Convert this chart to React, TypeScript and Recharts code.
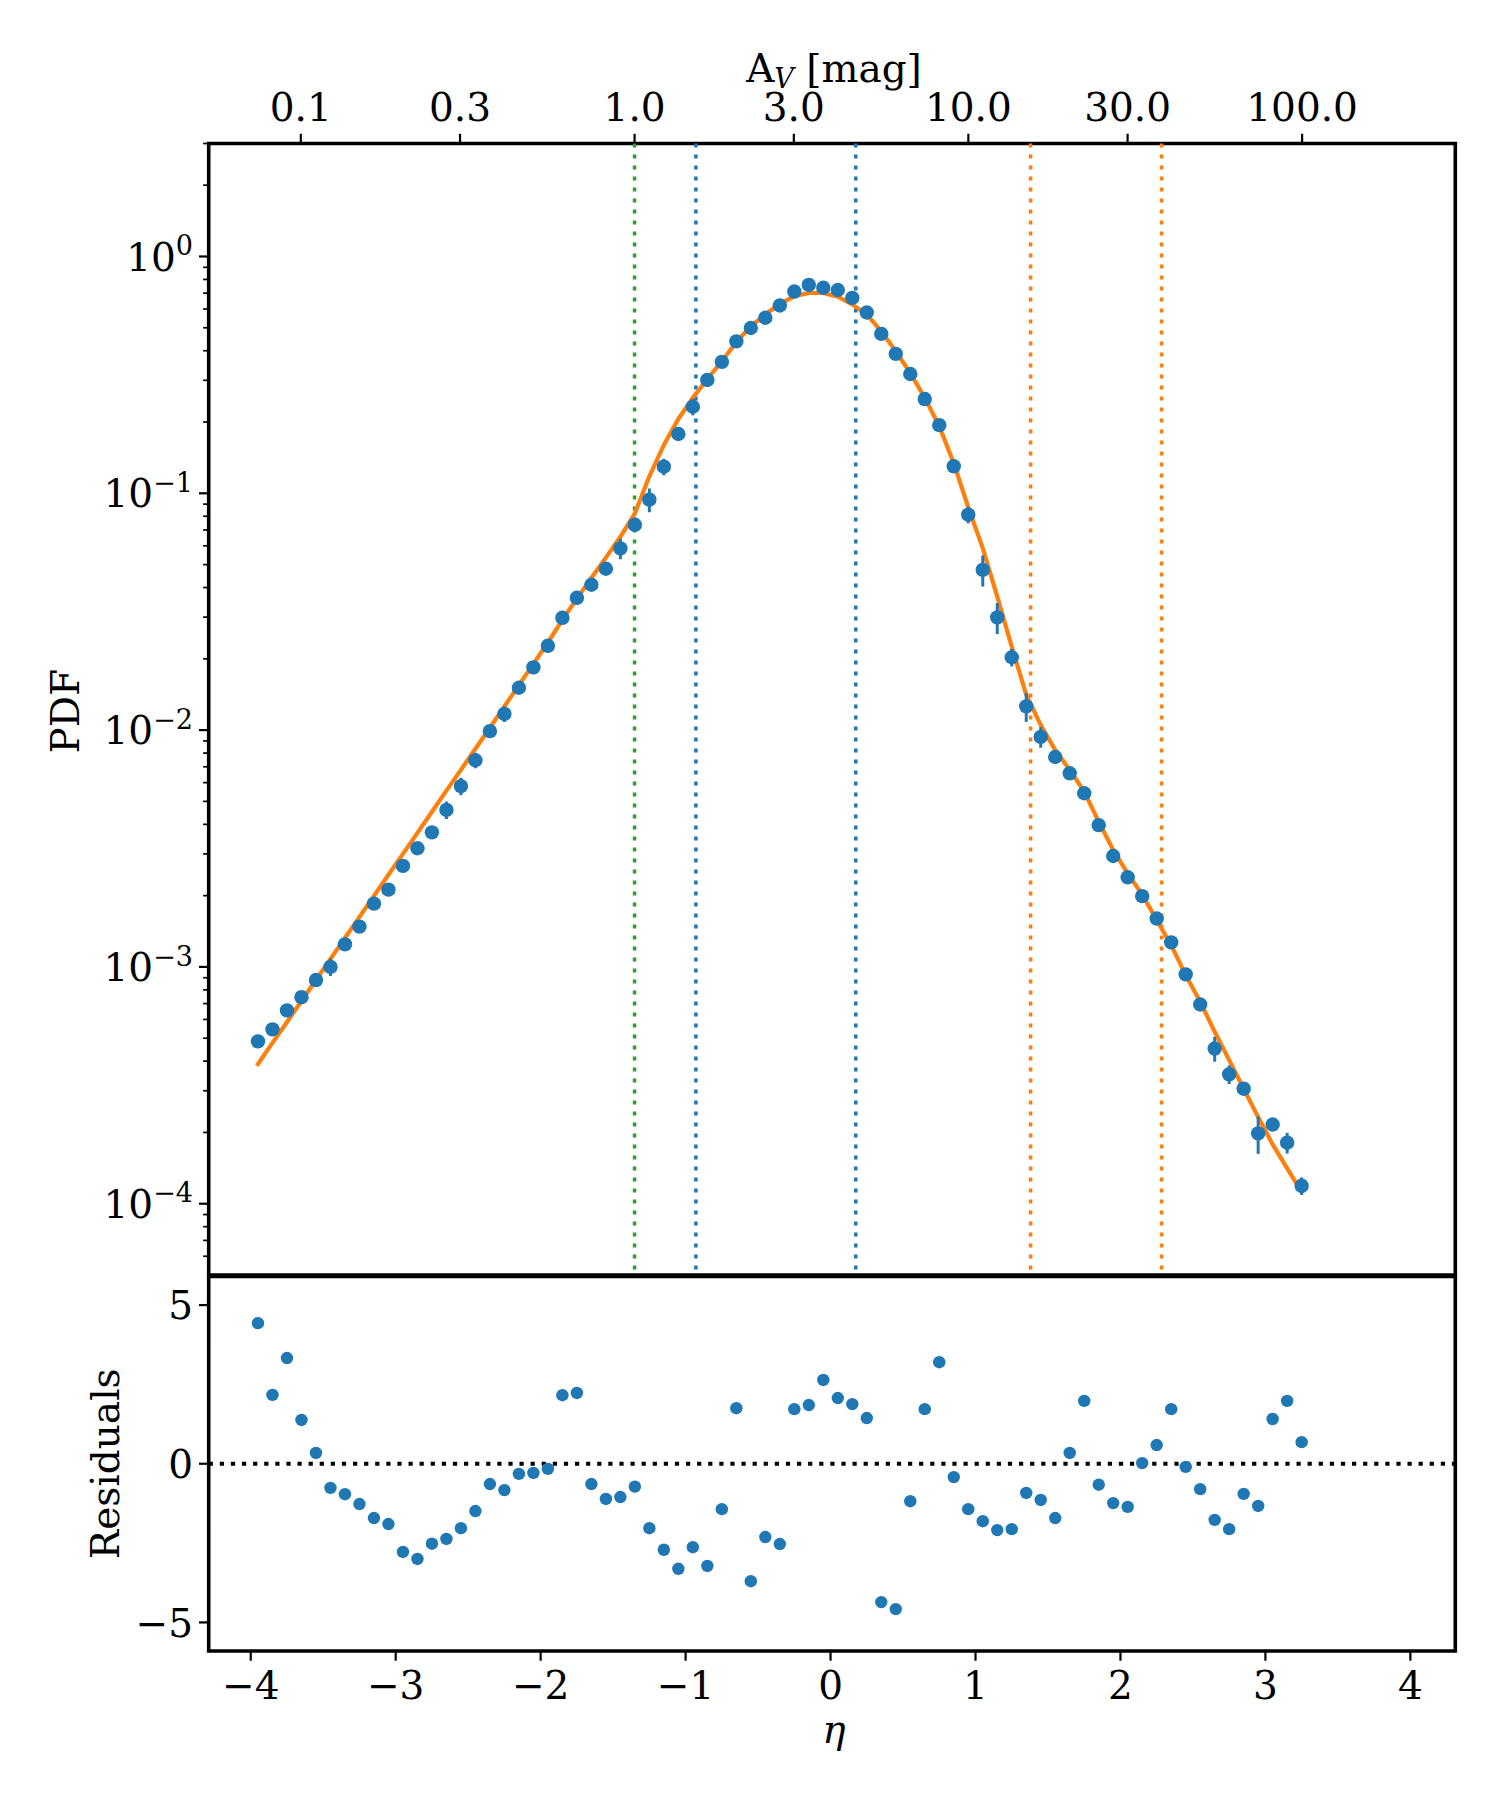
import React from 'react';
import {
  ComposedChart,
  Line,
  Scatter,
  XAxis,
  YAxis,
  ReferenceLine,
  ReferenceArea,
  ErrorBar,
} from 'recharts';

// ---------------- data ----------------
const etaBins = [
  -3.95, -3.85, -3.75, -3.65, -3.55, -3.45, -3.35, -3.25, -3.15, -3.05,
  -2.95, -2.85, -2.75, -2.65, -2.55, -2.45, -2.35, -2.25, -2.15, -2.05,
  -1.95, -1.85, -1.75, -1.65, -1.55, -1.45, -1.35, -1.25, -1.15, -1.05,
  -0.95, -0.85, -0.75, -0.65, -0.55, -0.45, -0.35, -0.25, -0.15, -0.05,
  0.05, 0.15, 0.25, 0.35, 0.45, 0.55, 0.65, 0.75, 0.85, 0.95,
  1.05, 1.15, 1.25, 1.35, 1.45, 1.55, 1.65, 1.75, 1.85, 1.95,
  2.05, 2.15, 2.25, 2.35, 2.45, 2.55, 2.65, 2.75, 2.85, 2.95,
  3.05, 3.15, 3.25,
];

const pdfValues = [
  4.85e-4, 5.45e-4, 6.55e-4, 7.45e-4, 8.8e-4, 1.0e-3, 1.245e-3, 1.48e-3, 1.85e-3, 2.12e-3,
  2.67e-3, 3.17e-3, 3.7e-3, 4.6e-3, 5.8e-3, 7.46e-3, 9.9e-3, 1.17e-2, 1.51e-2, 1.84e-2,
  2.27e-2, 2.98e-2, 3.62e-2, 4.11e-2, 4.8e-2, 5.85e-2, 7.36e-2, 9.4e-2, 0.1295, 0.178,
  0.232, 0.301, 0.359, 0.438, 0.499, 0.551, 0.621, 0.711, 0.759, 0.738,
  0.722, 0.669, 0.58, 0.471, 0.388, 0.319, 0.25, 0.194, 0.13, 0.0812,
  0.0475, 0.0299, 0.0203, 0.0126, 9.36e-3, 7.7e-3, 6.57e-3, 5.41e-3, 3.97e-3, 2.94e-3,
  2.39e-3, 1.99e-3, 1.6e-3, 1.27e-3, 9.3e-4, 6.94e-4, 4.52e-4, 3.52e-4, 3.06e-4, 1.98e-4,
  2.16e-4, 1.81e-4, 1.19e-4,
];

// relative 1-sigma errors of the PDF points
const pdfRelErr = [
  0.04, 0.04, 0.04, 0.04, 0.04, 0.085, 0.04, 0.04, 0.04, 0.04,
  0.04, 0.04, 0.04, 0.085, 0.085, 0.075, 0.05, 0.075, 0.05, 0.05,
  0.05, 0.05, 0.05, 0.05, 0.05, 0.1, 0.06, 0.115, 0.08, 0.05,
  0.08, 0.04, 0.04, 0.04, 0.03, 0.03, 0.03, 0.03, 0.03, 0.03,
  0.03, 0.03, 0.03, 0.03, 0.03, 0.03, 0.04, 0.04, 0.05, 0.08,
  0.15, 0.15, 0.085, 0.14, 0.1, 0.05, 0.05, 0.05, 0.05, 0.05,
  0.05, 0.05, 0.05, 0.05, 0.06, 0.06, 0.12, 0.09, 0.06, 0.18,
  0.06, 0.1, 0.085,
];

const fitValues = [
  3.89e-4, 4.78e-4, 5.85e-4, 7.18e-4, 8.81e-4, 1.081e-3, 1.324e-3, 1.626e-3, 1.995e-3, 2.449e-3,
  3.0e-3, 3.68e-3, 4.52e-3, 5.55e-3, 6.79e-3, 8.34e-3, 1.023e-2, 1.259e-2, 1.549e-2, 1.905e-2,
  2.344e-2, 2.92e-2, 3.59e-2, 4.39e-2, 5.35e-2, 6.55e-2, 8.22e-2, 0.118, 0.16, 0.206,
  0.253, 0.304, 0.361, 0.435, 0.507, 0.569, 0.631, 0.679, 0.701, 0.701,
  0.676, 0.627, 0.569, 0.483, 0.398, 0.322, 0.253, 0.192, 0.134, 0.0871,
  0.0587, 0.0366, 0.0225, 0.0141, 0.0105, 8.24e-3, 6.79e-3, 5.5e-3, 4.1e-3, 3.12e-3,
  2.48e-3, 2.02e-3, 1.58e-3, 1.236e-3, 9.23e-4, 7.13e-4, 5.32e-4, 4.04e-4, 3.06e-4, 2.32e-4,
  1.78e-4, 1.41e-4, 1.12e-4,
];

const residuals = [
  4.43, 2.17, 3.33, 1.38, 0.34, -0.76, -0.96, -1.27, -1.71, -1.9,
  -2.78, -3.0, -2.52, -2.37, -2.03, -1.49, -0.64, -0.83, -0.32, -0.29,
  -0.16, 2.16, 2.23, -0.64, -1.11, -1.05, -0.72, -2.03, -2.71, -3.31,
  -2.63, -3.22, -1.43, 1.75, -3.7, -2.31, -2.53, 1.72, 1.85, 2.64,
  2.07, 1.88, 1.44, -4.36, -4.58, -1.18, 1.72, 3.2, -0.42, -1.43,
  -1.81, -2.09, -2.06, -0.92, -1.14, -1.71, 0.34, 1.98, -0.66, -1.24,
  -1.36, 0.02, 0.59, 1.72, -0.1, -0.8, -1.77, -2.06, -0.95, -1.33,
  1.41, 1.98, 0.68,
];

// top axis: A_V in magnitudes, eta = ln(A_V / <A_V>)
const meanAv = 3.865;
const avTickValues = [0.1, 0.3, 1.0, 3.0, 10.0, 30.0, 100.0];
const avTickLabels = ['0.1', '0.3', '1.0', '3.0', '10.0', '30.0', '100.0'];

const greenLines = [-1.352];
const blueLines = [-0.929, 0.174];
const orangeLines = [1.38, 2.284];

const etaDomain = [-4.29, 4.31];
const pdfDomain = [5e-5, 3];
const resDomain = [-5.9, 5.9];
const pdfMajorTicks = [1e-4, 1e-3, 1e-2, 1e-1, 1];
const pdfMinorTicks = [
  6e-5, 7e-5, 8e-5, 9e-5,
  2e-4, 3e-4, 4e-4, 5e-4, 6e-4, 7e-4, 8e-4, 9e-4,
  2e-3, 3e-3, 4e-3, 5e-3, 6e-3, 7e-3, 8e-3, 9e-3,
  2e-2, 3e-2, 4e-2, 5e-2, 6e-2, 7e-2, 8e-2, 9e-2,
  0.2, 0.3, 0.4, 0.5, 0.6, 0.7, 0.8, 0.9,
  2, 3,
];
const etaTicks = [-4, -3, -2, -1, 0, 1, 2, 3, 4];
const resTicks = [-5, 0, 5];

// ---------------- derived tables ----------------
const pdfRows = etaBins.map((eta, i) => ({
  eta,
  pdf: pdfValues[i],
  err: pdfValues[i] * pdfRelErr[i],
  fit: fitValues[i],
}));
const resRows = etaBins.map((eta, i) => ({ eta, res: residuals[i] }));
const avTickEta = avTickValues.map((a) => Math.log(a / meanAv));
const pdfAllTicks = [...pdfMajorTicks, ...pdfMinorTicks].sort((a, b) => a - b);

// ---------------- styles ----------------
const FONT = 'DejaVu Serif';
const FS = 39;
const SUP = 27;
const C0 = '#1f77b4';
const C1 = '#ff7f0e';
const C2 = '#2ca02c';
const TICK_LEN = 9.7;
const MINOR_LEN = 5.6;
const Y_MARGIN = 6;
const X_MARGIN = 9.7;
const SPINE = 3.6;
const DOT = '4 7';

const minus = (v: number) => (v < 0 ? '\u2212' + Math.abs(v) : String(v));

function TopTick(props: any) {
  const { x, y, index } = props;
  return (
    <text x={x} y={y - 3} textAnchor="middle" fontFamily={FONT} fontSize={FS} fill="#000">
      {avTickLabels[index]}
    </text>
  );
}

function LogYTick(props: any) {
  const { x, y, payload } = props;
  const v = payload.value as number;
  const lg = Math.log10(v);
  const e = Math.round(lg);
  const major = Math.abs(lg - e) < 1e-6;
  const axisX = x + TICK_LEN + Y_MARGIN;
  return (
    <g>
      <line
        x1={axisX}
        x2={axisX - (major ? TICK_LEN : MINOR_LEN)}
        y1={y}
        y2={y}
        stroke="#000"
        strokeWidth={major ? 2.2 : 1.7}
      />
      {major && (
        <text x={x} y={y + 14.2} textAnchor="end" fontFamily={FONT} fontSize={FS} fill="#000">
          10
          <tspan fontSize={SUP} dy={-15.5}>
            {minus(e)}
          </tspan>
        </text>
      )}
    </g>
  );
}

function ResYTick(props: any) {
  const { x, y, payload } = props;
  return (
    <text x={x} y={y + 14.2} textAnchor="end" fontFamily={FONT} fontSize={FS} fill="#000">
      {minus(payload.value)}
    </text>
  );
}

function EtaXTick(props: any) {
  const { x, y, payload } = props;
  return (
    <text x={x} y={y + 28.4} textAnchor="middle" fontFamily={FONT} fontSize={FS} fill="#000">
      {minus(payload.value)}
    </text>
  );
}

const Dot7 = (p: any) => <circle cx={p.cx} cy={p.cy} r={7.2} fill={C0} />;
const Dot6 = (p: any) => <circle cx={p.cx} cy={p.cy} r={6.2} fill={C0} />;

const TOP_W = 1500;
const TOP_H = 1300;
const BOT_H = 600;
const LEFT_W = 208.7;
const RIGHT_M = 44.7;

export default function App() {
  return (
    <div
      style={{
        position: 'absolute',
        left: 0,
        top: 0,
        width: 1500,
        height: 1800,
        background: '#fff',
      }}
    >
      <div style={{ position: 'absolute', left: 0, top: 0 }}>
        <ComposedChart
          width={TOP_W}
          height={TOP_H}
          data={pdfRows}
          margin={{ top: 83.5, right: RIGHT_M, bottom: 25, left: 0 }}
        >
          <XAxis
            dataKey="eta"
            type="number"
            orientation="top"
            height={60}
            domain={etaDomain}
            allowDataOverflow
            ticks={avTickEta}
            interval={0}
            tick={<TopTick />}
            tickSize={TICK_LEN}
            tickMargin={X_MARGIN}
            axisLine={false}
            stroke="#000"
            tickLine={{ stroke: '#000', strokeWidth: 2.2 }}
            label={(p: any) => {
              const vb = p.viewBox || { x: LEFT_W, y: 83.5, width: 1246.6, height: 60 };
              return (
                <text
                  x={vb.x + vb.width / 2 + 2}
                  y={vb.y - 1.5}
                  textAnchor="middle"
                  fontFamily={FONT}
                  fontSize={FS}
                  fill="#000"
                >
                  A
                  <tspan fontStyle="italic" fontSize={SUP} dy={6}>
                    V
                  </tspan>
                  <tspan dy={-6}>{'\u00a0[mag]'}</tspan>
                </text>
              );
            }}
          />
          <YAxis
            type="number"
            scale="log"
            domain={pdfDomain}
            allowDataOverflow
            width={LEFT_W}
            ticks={pdfAllTicks}
            interval={0}
            tick={<LogYTick />}
            tickLine={false}
            axisLine={false}
            tickSize={TICK_LEN}
            tickMargin={Y_MARGIN}
            label={(p: any) => {
              const vb = p.viewBox || { x: 0, y: 143.5, width: LEFT_W, height: 1131.5 };
              const cx = vb.x + 79;
              const cy = vb.y + vb.height / 2 + 2;
              return (
                <text
                  x={cx}
                  y={cy}
                  transform={`rotate(-90, ${cx}, ${cy})`}
                  textAnchor="middle"
                  fontFamily={FONT}
                  fontSize={FS}
                  fill="#000"
                >
                  PDF
                </text>
              );
            }}
          />
          {greenLines.map((v) => (
            <ReferenceLine key={'g' + v} x={v} stroke={C2} strokeWidth={3.5} strokeDasharray={DOT} />
          ))}
          {blueLines.map((v) => (
            <ReferenceLine key={'b' + v} x={v} stroke={C0} strokeWidth={3.5} strokeDasharray={DOT} />
          ))}
          {orangeLines.map((v) => (
            <ReferenceLine key={'o' + v} x={v} stroke={C1} strokeWidth={3.5} strokeDasharray={DOT} />
          ))}
          <Line
            dataKey="fit"
            type="linear"
            stroke={C1}
            strokeWidth={4.2}
            strokeLinecap="square"
            dot={false}
            activeDot={false}
            isAnimationActive={false}
          />
          <Scatter dataKey="pdf" shape={Dot7} isAnimationActive={false}>
            <ErrorBar dataKey="err" direction="y" width={0} stroke={C0} strokeWidth={3} />
          </Scatter>
          <ReferenceArea
            x1={etaDomain[0]}
            x2={etaDomain[1]}
            y1={pdfDomain[0]}
            y2={pdfDomain[1]}
            fill="none"
            fillOpacity={0}
            stroke="#000"
            strokeWidth={SPINE}
            ifOverflow="visible"
          />
        </ComposedChart>
      </div>

      <div style={{ position: 'absolute', left: 0, top: 1200 }}>
        <ComposedChart
          width={TOP_W}
          height={BOT_H}
          data={resRows}
          margin={{ top: 76.5, right: RIGHT_M, bottom: 49, left: 0 }}
        >
          <XAxis
            dataKey="eta"
            type="number"
            height={100}
            domain={etaDomain}
            allowDataOverflow
            ticks={etaTicks}
            interval={0}
            tick={<EtaXTick />}
            tickSize={TICK_LEN}
            tickMargin={X_MARGIN}
            axisLine={false}
            stroke="#000"
            tickLine={{ stroke: '#000', strokeWidth: 2.2 }}
            label={(p: any) => {
              const vb = p.viewBox || { x: LEFT_W, y: 451, width: 1246.6, height: 100 };
              return (
                <text
                  x={vb.x + vb.width / 2 + 2}
                  y={vb.y + 92}
                  textAnchor="middle"
                  fontFamily={FONT}
                  fontStyle="italic"
                  fontSize={FS}
                  fill="#000"
                >
                  η
                </text>
              );
            }}
          />
          <YAxis
            type="number"
            domain={resDomain}
            allowDataOverflow
            width={LEFT_W}
            ticks={resTicks}
            interval={0}
            tick={<ResYTick />}
            tickSize={TICK_LEN}
            tickMargin={Y_MARGIN}
            axisLine={false}
            stroke="#000"
            tickLine={{ stroke: '#000', strokeWidth: 2.2 }}
            label={(p: any) => {
              const vb = p.viewBox || { x: 0, y: 76.5, width: LEFT_W, height: 374.5 };
              const cx = vb.x + 119;
              const cy = vb.y + vb.height / 2;
              return (
                <text
                  x={cx}
                  y={cy}
                  transform={`rotate(-90, ${cx}, ${cy})`}
                  textAnchor="middle"
                  fontFamily={FONT}
                  fontSize={FS}
                  fill="#000"
                >
                  Residuals
                </text>
              );
            }}
          />
          <ReferenceLine y={0} stroke="#000" strokeWidth={4.2} strokeDasharray="4.2 6.9" />
          <Scatter dataKey="res" shape={Dot6} isAnimationActive={false} />
          <ReferenceArea
            x1={etaDomain[0]}
            x2={etaDomain[1]}
            y1={resDomain[0]}
            y2={resDomain[1]}
            fill="none"
            fillOpacity={0}
            stroke="#000"
            strokeWidth={SPINE}
            ifOverflow="visible"
          />
        </ComposedChart>
      </div>
    </div>
  );
}
